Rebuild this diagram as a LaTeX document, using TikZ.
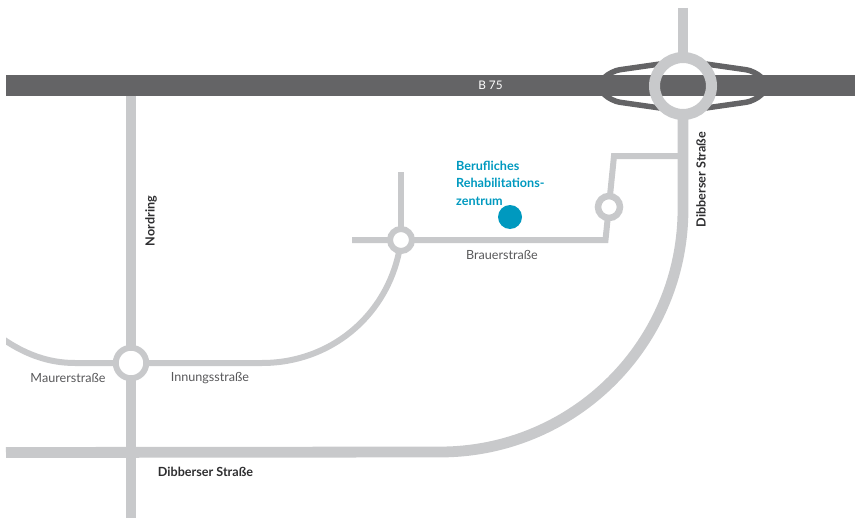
\documentclass[tikz,border=0pt]{standalone}
\usepackage{fontspec}
\setmainfont{Lato}
\definecolor{road}{HTML}{C8C9CB}
\definecolor{band}{HTML}{646466}
\definecolor{teal}{HTML}{0099BF}
\definecolor{txt}{HTML}{58585A}
\definecolor{txtd}{HTML}{2E2E30}
\tikzset{
  thick road/.style={draw=road,line width=10.8pt},
  thin road/.style={draw=road,line width=6pt},
  ramp/.style={draw=band,line width=5.5pt,line cap=butt,rounded corners=9pt},
  ring/.style={draw=road,circle,inner sep=0pt},
  lab/.style={font=\fontsize{12.6pt}{14pt}\selectfont,text=txt,inner sep=0pt},
  labd/.style={font=\fontsize{12.6pt}{14pt}\selectfont\bfseries,text=txtd,inner sep=0pt},
}
\begin{document}
\begin{tikzpicture}[x=1pt,y=-1pt]
\useasboundingbox (0,0) rectangle (860,519);
% ramps
\draw[ramp] (660,64) -- (611,71) -- (603,79);
\draw[ramp] (706,64) -- (755,71) -- (763,79);
\draw[ramp] (660,108) -- (611,101) -- (603,93);
\draw[ramp] (706,108) -- (755,101) -- (763,93);
% motorway
\fill[band] (6,75) rectangle (855,96);
\node[text=white,font=\fontsize{11.8pt}{14pt}\selectfont,inner sep=0pt] (b75) at (490.5,85) {B 75};
% main roads
\draw[thick road] (683,8) -- (683,60);
\draw[thick road] (683,110) -- (683,209) arc[start angle=0,end angle=90,radius=243] -- (6,452.5);
\draw[thick road] (131,96) -- (131,518);
% thin roads
\draw[thin road] (683,156) -- (614,156) -- (605.5,240) -- (352,240);
\draw[thin road] (401,172) -- (401,240);
\begin{scope}
\clip (6,230) rectangle (420,380);
\draw[thin road] (401,240) .. controls (392,312) and (333,363) .. (262,363) -- (75,363) .. controls (48,363) and (24,354) .. (0,337);
\end{scope}
% roundabouts
\node[ring,line width=11pt,minimum size=57pt] (big) at (683,86) {};
\node[ring,fill=white,line width=6.5pt,minimum size=22pt] (east) at (609,207) {};
\node[ring,fill=white,line width=6pt,minimum size=22pt] (mid) at (401,240) {};
\node[ring,fill=white,line width=6pt,minimum size=30.5pt] (west) at (131,363) {};
% destination
\fill[teal] (510,217) circle (12pt);
\node[anchor=north west,align=left,inner sep=0pt,text=teal,font=\fontsize{12.6pt}{17.4pt}\selectfont\bfseries] (dest) at (456,161) {Berufliches\\Rehabilitations-\\zentrum};
% labels
\node[lab] (brauer) at (502,255) {Brauerstraße};
\node[lab] (maurer) at (68,378) {Maurerstraße};
\node[lab] (innung) at (210,378) {Innungsstraße};
\node[labd] (dib1) at (205.5,472) {Dibberser Straße};
\node[labd,rotate=90] (dib2) at (701,179.5) {Dibberser Straße};
\node[labd,rotate=90] (nord) at (151,221) {Nordring};
\end{tikzpicture}
\end{document}
